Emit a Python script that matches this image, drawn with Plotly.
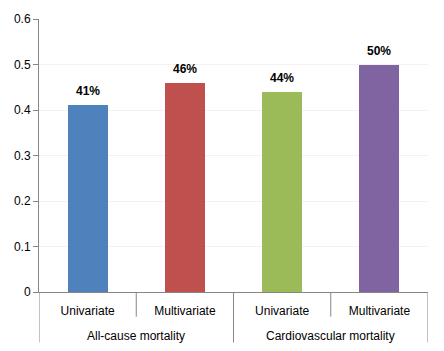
import plotly.graph_objects as go

subcats = ["Univariate", "Multivariate", "Univariate", "Multivariate"]
groups = ["All-cause mortality", "Cardiovascular mortality"]
values = [0.41, 0.46, 0.44, 0.50]
labels = ["41%", "46%", "44%", "50%"]
colors = ["#4F81BD", "#C0504D", "#9BBB59", "#8064A2"]
yticks = [0, 0.1, 0.2, 0.3, 0.4, 0.5, 0.6]

FONT = "Liberation Sans"
xs = list(range(len(values)))

fig = go.Figure(go.Bar(
    x=xs, y=values, marker=dict(color=colors, line=dict(width=0)),
    width=0.41,
))

axis_col = "#868686"
shapes = []
for i, b in enumerate([-0.5, 0.5, 1.5, 2.5, 3.5]):
    long = i % 2 == 0
    shapes.append(dict(type="line", xref="x", yref="paper", x0=b, x1=b,
                       y0=0, y1=-0.185 if long else -0.0903,
                       line=dict(color=axis_col, width=1)))

annotations = []
for x, v, t in zip(xs, values, labels):
    annotations.append(dict(text=f"<b>{t}</b>", x=x, y=v, xref="x", yref="y",
                            showarrow=False, yanchor="bottom", yshift=5,
                            font=dict(family=FONT, size=12, color="black")))
for gi, g in enumerate(groups):
    annotations.append(dict(text=g, x=gi * 2 + 0.5, xref="x", y=-0.162, yref="paper",
                            showarrow=False, yanchor="middle",
                            font=dict(family=FONT, size=12, color="black")))

fig.update_layout(
    width=444, height=351,
    margin=dict(l=39, r=16, t=15, b=59),
    paper_bgcolor="white", plot_bgcolor="white",
    showlegend=False,
    font=dict(family=FONT, size=12, color="black"),
    xaxis=dict(range=[-0.5, 3.5], tickvals=xs, ticktext=subcats, ticks="",
               showline=True, linecolor=axis_col, linewidth=1, showgrid=False,
               zeroline=False, tickfont=dict(family=FONT, size=12, color="black"),
               ticklabelstandoff=8),
    yaxis=dict(range=[0, 0.6], tickvals=yticks, ticktext=[f"{v:g}" for v in yticks],
               ticks="outside", ticklen=5, tickcolor=axis_col,
               showline=True, linecolor=axis_col, linewidth=1,
               showgrid=True, gridcolor="#F2F2F2", zeroline=False,
               tickfont=dict(family=FONT, size=12, color="black")),
    shapes=shapes, annotations=annotations,
    bargap=0,
)

fig.write_html("out.html")
